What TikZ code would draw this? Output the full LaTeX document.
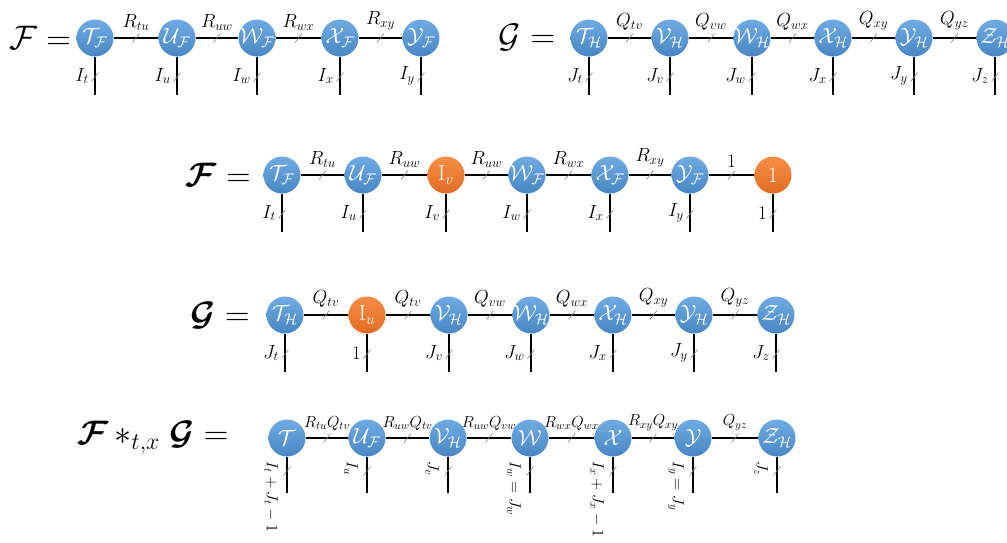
\RequirePackage{fix-cm}
\documentclass[tikz,border=0pt]{standalone}
\usepackage{amsmath,bm}
\usetikzlibrary{calc}
\definecolor{nblueT}{RGB}{112,172,226}
\definecolor{nblueB}{RGB}{72,134,196}
\definecolor{orT}{RGB}{246,142,72}
\definecolor{orB}{RGB}{226,108,34}
\tikzset{
 nd/.style={circle,minimum size=37pt,inner sep=-5pt,text=white,font=\fontsize{22}{24}\selectfont,top color=nblueT,bottom color=nblueB,draw=none},
 ob/.style={nd,top color=orT,bottom color=orB},
 ln/.style={line width=1.6pt,black},
 tk/.style={line width=0.6pt,gray},
 el/.style={font=\fontsize{19}{21}\selectfont,inner sep=1pt},
 els/.style={font=\fontsize{16}{18}\selectfont,inner sep=1pt},
 big/.style={font=\fontsize{34}{38}\selectfont,inner sep=0pt},
}
\newcommand\edg[3]{\draw[ln] (#1) -- coordinate (#1#2m) node[el,above=6pt]{#3} (#2);
  \draw[tk] (#1#2m) +(-3.5,4.5) -- +(3.5,-4.5);}
\newcommand\edgs[3]{\draw[ln] (#1) -- coordinate (#1#2m) node[els,above=6pt]{#3} (#2);
  \draw[tk] (#1#2m) +(-3.5,4.5) -- +(3.5,-4.5);}
\newcommand\legd[2]{\draw[ln] (#1.south) -- ++(0,38.5) coordinate (#1b);
  \coordinate (#1t) at ($(#1)+(0,39)$);
  \draw[tk] (#1t) +(-3.5,4.5) -- +(3.5,-4.5);
  \node[el,anchor=east] at ($(#1t)+(-5,-1)$) {#2};}
\newcommand\legr[2]{\draw[ln] (#1.south) -- ++(0,36.5) coordinate (#1b);
  \coordinate (#1t) at ($(#1)+(0,33)$);
  \draw[tk] (#1t) +(-3.5,4.5) -- +(3.5,-4.5);
  \node[els,rotate=-90,anchor=north west] at ($(#1)+(-8,22)$) {#2};}
\begin{document}
\begin{tikzpicture}[x=1pt,y=-1pt]
\useasboundingbox (0,0) rectangle (1007,542);
% ---------- Row 1 left
\node[big] (F1) at (40,38) {$\mathcal{F} =$};
\node[nd] (a1) at (95,38) {$\mathcal{T}_{\mathcal{F}}$};
\node[nd] (a2) at (177,38) {$\mathcal{U}_{\mathcal{F}}$};
\node[nd] (a3) at (257,38) {$\mathcal{W}_{\mathcal{F}}$};
\node[nd] (a4) at (340,38) {$\mathcal{X}_{\mathcal{F}}$};
\node[nd] (a5) at (421,38) {$\mathcal{Y}_{\mathcal{F}}$};
\edg{a1}{a2}{$R_{tu}$}\edg{a2}{a3}{$R_{uw}$}\edg{a3}{a4}{$R_{wx}$}\edg{a4}{a5}{$R_{xy}$}
\legd{a1}{$I_t$}\legd{a2}{$I_u$}\legd{a3}{$I_w$}\legd{a4}{$I_x$}\legd{a5}{$I_y$}
% ---------- Row 1 right
\node[big] (G1) at (527,38) {$\mathcal{G} =$};
\node[nd] (b1) at (589,38) {$\mathcal{T}_{\mathcal{H}}$};
\node[nd] (b2) at (670,38) {$\mathcal{V}_{\mathcal{H}}$};
\node[nd] (b3) at (752,38) {$\mathcal{W}_{\mathcal{H}}$};
\node[nd] (b4) at (833,38) {$\mathcal{X}_{\mathcal{H}}$};
\node[nd] (b5) at (914,38) {$\mathcal{Y}_{\mathcal{H}}$};
\node[nd] (b6) at (995,38) {$\mathcal{Z}_{\mathcal{H}}$};
\edg{b1}{b2}{$Q_{tv}$}\edg{b2}{b3}{$Q_{vw}$}\edg{b3}{b4}{$Q_{wx}$}\edg{b4}{b5}{$Q_{xy}$}\edg{b5}{b6}{$Q_{yz}$}
\legd{b1}{$J_t$}\legd{b2}{$J_v$}\legd{b3}{$J_w$}\legd{b4}{$J_x$}\legd{b5}{$J_y$}\legd{b6}{$J_z$}
% ---------- Row 2
\node[big] (F2) at (218,175) {$\bm{\mathcal{F}} =$};
\node[nd] (c1) at (282,175) {$\mathcal{T}_{\mathcal{F}}$};
\node[nd] (c2) at (363,175) {$\mathcal{U}_{\mathcal{F}}$};
\node[ob] (c3) at (446,175) {$\mathrm{I}_v$};
\node[nd] (c4) at (527,175) {$\mathcal{W}_{\mathcal{F}}$};
\node[nd] (c5) at (610,175) {$\mathcal{X}_{\mathcal{F}}$};
\node[nd] (c6) at (690,175) {$\mathcal{Y}_{\mathcal{F}}$};
\node[ob] (c7) at (773,175) {1};
\edg{c1}{c2}{$R_{tu}$}\edg{c2}{c3}{$R_{uw}$}\edg{c3}{c4}{$R_{uw}$}\edg{c4}{c5}{$R_{wx}$}\edg{c5}{c6}{$R_{xy}$}\edg{c6}{c7}{1}
\legd{c1}{$I_t$}\legd{c2}{$I_u$}\legd{c3}{$I_v$}\legd{c4}{$I_w$}\legd{c5}{$I_x$}\legd{c6}{$I_y$}\legd{c7}{1}
% ---------- Row 3
\node[big] (G3) at (220,315) {$\bm{\mathcal{G}} =$};
\node[nd] (d1) at (285,315) {$\mathcal{T}_{\mathcal{H}}$};
\node[ob] (d2) at (367,315) {$\mathrm{I}_u$};
\node[nd] (d3) at (449,315) {$\mathcal{V}_{\mathcal{H}}$};
\node[nd] (d4) at (531,315) {$\mathcal{W}_{\mathcal{H}}$};
\node[nd] (d5) at (613,315) {$\mathcal{X}_{\mathcal{H}}$};
\node[nd] (d6) at (694,315) {$\mathcal{Y}_{\mathcal{H}}$};
\node[nd] (d7) at (776,315) {$\mathcal{Z}_{\mathcal{H}}$};
\edg{d1}{d2}{$Q_{tv}$}\edg{d2}{d3}{$Q_{tv}$}\edg{d3}{d4}{$Q_{vw}$}\edg{d4}{d5}{$Q_{wx}$}\edg{d5}{d6}{$Q_{xy}$}\edg{d6}{d7}{$Q_{yz}$}
\legd{d1}{$J_t$}\legd{d2}{1}\legd{d3}{$J_v$}\legd{d4}{$J_w$}\legd{d5}{$J_x$}\legd{d6}{$J_y$}\legd{d7}{$J_z$}
% ---------- Row 4
\node[big] (P4) at (153,438) {$\bm{\mathcal{F}}\,{\ast}_{t,x}\;\bm{\mathcal{G}} =$};
\node[nd] (e1) at (287,438) {$\mathcal{T}$};
\node[nd] (e2) at (367,438) {$\mathcal{U}_{\mathcal{F}}$};
\node[nd] (e3) at (448,438) {$\mathcal{V}_{\mathcal{H}}$};
\node[nd] (e4) at (530,438) {$\mathcal{W}$};
\node[nd] (e5) at (613,438) {$\mathcal{X}$};
\node[nd] (e6) at (693,438) {$\mathcal{Y}$};
\node[nd] (e7) at (777,438) {$\mathcal{Z}_{\mathcal{H}}$};
\edgs{e1}{e2}{$R_{tu}Q_{tv}$}\edgs{e2}{e3}{$R_{uw}Q_{tv}$}\edgs{e3}{e4}{$R_{uw}Q_{vw}$}\edgs{e4}{e5}{$R_{wx}Q_{wx}$}\edgs{e5}{e6}{$R_{xy}Q_{xy}$}\edgs{e6}{e7}{$Q_{yz}$}
\legr{e1}{$I_t+J_t-1$}\legr{e2}{$I_u$}\legr{e3}{$J_v$}\legr{e4}{$I_w=J_w$}\legr{e5}{$I_x+J_x-1$}\legr{e6}{$I_y=J_y$}\legr{e7}{$J_z$}
\end{tikzpicture}
\end{document}
